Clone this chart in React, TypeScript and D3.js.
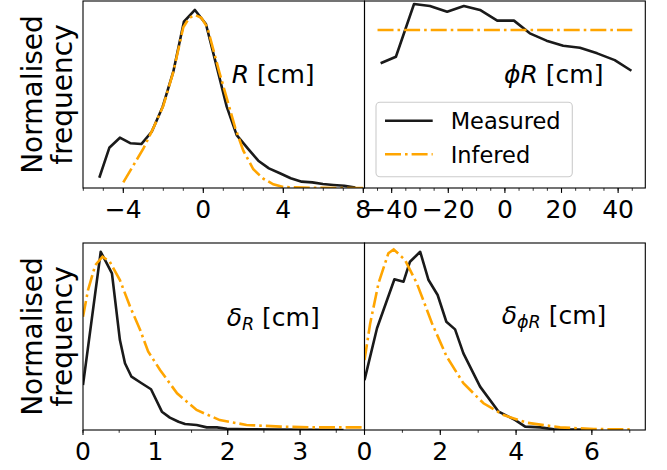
import * as d3 from 'd3'

// ---- data ----
// R panel
const rMeasX = [-5.2, -4.7, -4.17, -3.63, -3.1, -2.58, -2.03, -1.5, -0.97, -0.42, 0.13, 0.67, 1.17, 1.67, 2.22, 2.75, 3.28, 3.83, 4.37, 4.92, 5.45, 5.98, 6.5, 7.05, 7.6]
const rMeasY = [0.055, 0.215, 0.269, 0.239, 0.235, 0.301, 0.435, 0.622, 0.889, 0.952, 0.877, 0.649, 0.435, 0.283, 0.212, 0.146, 0.105, 0.079, 0.052, 0.034, 0.03, 0.021, 0.016, 0.012, 0.002]
const rInfX = [-4.0, -3.5, -3.0, -2.5, -2.0, -1.5, -1.0, -0.7, -0.4, -0.1, 0.2, 0.5, 0.8, 1.2, 1.6, 2.0, 2.5, 3.0, 3.5, 4.0, 5, 6, 7, 8]
const rInfY = [0.03, 0.12, 0.21, 0.32, 0.44, 0.62, 0.86, 0.91, 0.925, 0.91, 0.86, 0.74, 0.62, 0.47, 0.32, 0.2, 0.1, 0.05, 0.02, 0.005, 0.002, 0.001, 0, 0]

// phi R panel
const pMeasX = [-43.9, -38.5, -32.1, -26.5, -20.4, -14.5, -8.8, -2.7, 3.2, 8.8, 14.7, 20.6, 26.5, 32.6, 38.8, 44.7]
const pMeasY = [0.667, 0.702, 0.984, 0.973, 0.943, 0.973, 0.952, 0.895, 0.895, 0.827, 0.788, 0.761, 0.75, 0.72, 0.684, 0.627]
const pInfX = [-45, 45]
const pInfY = [0.845, 0.845]

// delta R panel
const dMeasX = [0, 0.245, 0.4, 0.51, 0.58, 0.67, 0.81, 0.94, 1.09, 1.2, 1.32, 1.41, 1.57, 1.71, 1.85, 1.99, 2.27, 2.73, 3.2, 3.6]
const dMeasY = [0.24, 0.953, 0.838, 0.481, 0.357, 0.285, 0.25, 0.218, 0.098, 0.066, 0.044, 0.032, 0.027, 0.014, 0.014, 0.007, 0.004, 0.002, 0.001, 0]
const dInfX = [0, 0.07, 0.17, 0.27, 0.37, 0.51, 0.65, 0.79, 0.9, 1.065, 1.3, 1.57, 1.89, 2.26, 2.73, 3.2, 3.89]
const dInfY = [0.606, 0.749, 0.882, 0.927, 0.9, 0.802, 0.66, 0.535, 0.42, 0.321, 0.196, 0.107, 0.053, 0.027, 0.018, 0.014, 0.014]

// delta phi R panel
const dpMeasX = [0, 0.33, 0.79, 1.03, 1.2, 1.47, 1.69, 1.93, 2.16, 2.39, 2.61, 3.05, 3.54, 3.98, 4.24, 4.64, 5.0, 6.05]
const dpMeasY = [0.267, 0.544, 0.806, 0.793, 0.9, 0.953, 0.802, 0.722, 0.579, 0.538, 0.41, 0.232, 0.098, 0.053, 0.018, 0.014, 0.004, 0.001]
const dpInfX = [0, 0.15, 0.37, 0.63, 0.77, 1.07, 1.38, 1.6, 1.78, 2.17, 2.61, 3.14, 3.67, 4.28, 5.16, 6.05, 7.0]
const dpInfY = [0.374, 0.57, 0.785, 0.945, 0.966, 0.909, 0.785, 0.668, 0.571, 0.392, 0.25, 0.143, 0.08, 0.039, 0.014, 0.005, 0.003]

// ticks
const rTicks = [-4, 0, 4, 8]
const rMinor = d3.range(-6, 9, 1)
const pTicks = [-40, -20, 0, 20, 40]
const pMinor = d3.range(-45, 50, 5)
const dTicks = [0, 1, 2, 3]
const dMinor = d3.range(0, 4, 0.5)
const dpTicks = [0, 2, 4, 6]
const dpMinor = d3.range(0, 8, 1)

const legendLabels = ['Measured', 'Infered']
const yLabelLines = ['Normalised', 'frequency']

const FONT = 'DejaVu Sans, sans-serif'
const BLACK = '#1a1a1a'
const ORANGE = '#ffa500'
const DASH = '16,4,2.6,4'

const fmt = (v: number) => (v < 0 ? '\u2212' + Math.abs(v) : String(v))

type Series = { xs: number[]; ys: number[] }

function Panel({ id, box, xDomain, ticks, minor, meas, inf, children }: {
  id: string
  box: { x0: number; x1: number; y0: number; y1: number }
  xDomain: [number, number]
  ticks: number[]
  minor: number[]
  meas: Series
  inf: Series
  children?: any
}) {
  const x = d3.scaleLinear().domain(xDomain).range([box.x0, box.x1])
  const y = d3.scaleLinear().domain([0, 1]).range([box.y1, box.y0])
  const line = (s: Series) =>
    d3.line<number>().x((_, i) => x(s.xs[i])).y((_, i) => y(s.ys[i]))(s.ys) ?? ''
  const inRange = (v: number) => v >= xDomain[0] - 1e-9 && v <= xDomain[1] + 1e-9
  return (
    <g>
      <defs>
        <clipPath id={id}>
          <rect x={box.x0} y={box.y0} width={box.x1 - box.x0} height={box.y1 - box.y0} />
        </clipPath>
      </defs>
      <g clipPath={`url(#${id})`}>
        <path d={line(meas)} fill="none" stroke={BLACK} strokeWidth={2.6} strokeLinejoin="round" />
        <path d={line(inf)} fill="none" stroke={ORANGE} strokeWidth={2.6} strokeDasharray={DASH} />
      </g>
      {children}
      <rect x={box.x0} y={box.y0} width={box.x1 - box.x0} height={box.y1 - box.y0}
        fill="none" stroke="#000" strokeWidth={1.1} />
      {minor.filter(inRange).map(v => (
        <line key={'m' + v} x1={x(v)} x2={x(v)} y1={box.y1} y2={box.y1 + 2.8} stroke="#000" strokeWidth={0.8} />
      ))}
      {ticks.filter(inRange).map(v => (
        <g key={'t' + v}>
          <line x1={x(v)} x2={x(v)} y1={box.y1} y2={box.y1 + 4.9} stroke="#000" strokeWidth={1.1} />
          <text x={x(v)} y={box.y1 + 30} textAnchor="middle" fontSize={25} fontFamily={FONT}>{fmt(v)}</text>
        </g>
      ))}
    </g>
  )
}

function YLabel({ cy }: { cy: number }) {
  return (
    <g fontFamily={FONT} fontSize={28}>
      {yLabelLines.map((t, i) => (
        <text key={t} transform={`translate(${41.7 + i * 30},${cy}) rotate(-90)`} textAnchor="middle">{t}</text>
      ))}
    </g>
  )
}

export default function App() {
  const L = 83, M = 364.5, R = 645.3
  const top = { y0: 1, y1: 188 }
  const bot = { y0: 243, y1: 430 }
  return (
    <svg width={667} height={470} style={{ position: 'absolute', left: 0, top: 0, background: '#fff' }}>
      <YLabel cy={94.5} />
      <YLabel cy={336.5} />

      <Panel id="c1" box={{ x0: L, x1: M, ...top }} xDomain={[-6.015, 8.06]} ticks={rTicks} minor={rMinor}
        meas={{ xs: rMeasX, ys: rMeasY }} inf={{ xs: rInfX, ys: rInfY }}>
        <text x={231.7} y={83.3} fontSize={25} fontFamily={FONT}>
          <tspan fontStyle="italic">R</tspan> [cm]
        </text>
      </Panel>

      <Panel id="c2" box={{ x0: M, x1: R, ...top }} xDomain={[-49.6, 49.6]} ticks={pTicks} minor={pMinor}
        meas={{ xs: pMeasX, ys: pMeasY }} inf={{ xs: pInfX, ys: pInfY }}>
        <text x={504} y={83.3} fontSize={25} fontFamily={FONT}>
          <tspan fontStyle="italic">{'\u03d5R'}</tspan> [cm]
        </text>
        <rect x={376} y={102.3} width={196.3} height={74.4} rx={4} fill="#fff" fillOpacity={0.8} stroke="#ccc" strokeWidth={1.1} />
        {legendLabels.map((t, i) => (
          <g key={t}>
            <line x1={385} x2={432.7} y1={120.7 + i * 33.6} y2={120.7 + i * 33.6}
              stroke={i === 0 ? BLACK : ORANGE} strokeWidth={2.6} strokeDasharray={i === 0 ? undefined : DASH} />
            <text x={450.7} y={129 + i * 33.6} fontSize={22.5} fontFamily={FONT}>{t}</text>
          </g>
        ))}
      </Panel>

      <Panel id="c3" box={{ x0: L, x1: M, ...bot }} xDomain={[0, 3.89]} ticks={dTicks} minor={dMinor}
        meas={{ xs: dMeasX, ys: dMeasY }} inf={{ xs: dInfX, ys: dInfY }}>
        <text x={226.7} y={326} fontSize={25} fontFamily={FONT}>
          <tspan fontStyle="italic">{'\u03b4'}</tspan>
          <tspan fontStyle="italic" fontSize={17.5} dy={4}>R</tspan>
          <tspan dy={-4}> [cm]</tspan>
        </text>
      </Panel>

      <Panel id="c4" box={{ x0: M, x1: R, ...bot }} xDomain={[0, 7.41]} ticks={dpTicks} minor={dpMinor}
        meas={{ xs: dpMeasX, ys: dpMeasY }} inf={{ xs: dpInfX, ys: dpInfY }}>
        <text x={501.7} y={324} fontSize={25} fontFamily={FONT}>
          <tspan fontStyle="italic">{'\u03b4'}</tspan>
          <tspan fontStyle="italic" fontSize={17.5} dy={4}>{'\u03d5R'}</tspan>
          <tspan dy={-4}> [cm]</tspan>
        </text>
      </Panel>
    </svg>
  )
}
